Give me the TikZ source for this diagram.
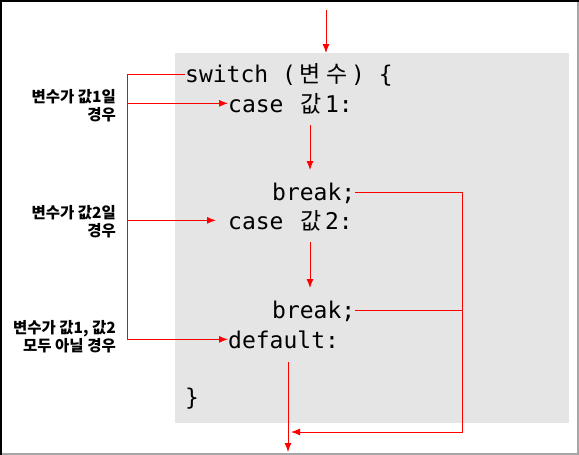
\documentclass[tikz,border=0pt]{standalone}
\usepackage{fontspec}
\usetikzlibrary{arrows.meta}
\newfontfamily\codefont{DejaVu Sans Mono}
\newfontfamily\cjk{Noto Sans CJK KR}
\newcommand\hg[1]{\makebox[1.2em]{\cjk #1}}
\definecolor{boxgray}{RGB}{229,229,229}
\tikzset{
  code/.style={anchor=base west, inner sep=0pt, font=\codefont\fontsize{23}{27}\selectfont},
  lbl/.style={anchor=east, align=right, inner sep=0pt, font=\cjk\bfseries\fontsize{15.5}{18}\selectfont},
  wire/.style={red, line width=1pt},
  flow/.style={wire, ->}
}
\begin{document}
\begin{tikzpicture}[x=1pt, y=-1pt, >={Latex[length=9pt,width=7pt]}]
        \useasboundingbox (0,0) rectangle (579,455);
        \draw[gray!70, line width=1.5pt] (578,0) -- (578,454) -- (0,454);
        \draw[black, line width=1.5pt] (0.75,455) -- (0.75,0.75) -- (579,0.75);
        \node[fill=boxgray, inner sep=0pt, minimum width=394pt, minimum height=370pt, anchor=north west] (body) at (175,53) {};
        % code lines
        \node[code] (sw) at (185,82) {switch (\hg{변}\hg{수}) \{};
        \node[code] (c1) at (228,112) {case \hg{값}1:};
        \node[code] (b1) at (272,200) {break;};
        \node[code] (c2) at (228,229) {case \hg{값}2:};
        \node[code] (b2) at (272,318) {break;};
        \node[code] (df) at (228,348) {default:};
        \node[code] (cl) at (185,405) {\}};
        % labels
        \node[lbl] (l1) at (116,106) {변수가 값1일\\경우};
        \node[lbl] (l2) at (116,222) {변수가 값2일\\경우};
        \node[lbl] (l3) at (116,337) {변수가 값1, 값2\\모두 아닐 경우};
        % free ends
        \coordinate (in) at (326,10);
        \coordinate (tr) at (127,73);
        \coordinate (s1) at (310,125);
        \coordinate (e1) at (310,170);
        \coordinate (s2) at (310,242);
        \coordinate (e2) at (310,288);
        \coordinate (jn) at (462,192);
        \coordinate (out) at (291,432);
        \coordinate (d0) at (288,362);
        \coordinate (d1) at (288,452);
        % connectors
        \draw[flow] (in) -- (in |- body.north);
        \draw[flow] (sw.west) -- (sw.west -| tr) |- (df.west);
        \draw[flow] (tr |- c1.west) -- (c1.west);
        \draw[flow] (tr |- c2.west) -- ([xshift=-12pt]c2.west);
        \draw[flow] (s1) -- (e1);
        \draw[flow] (s2) -- (e2);
        \draw[flow] (b1.east) -- (b1.east -| jn) -- (jn |- out) -- (out);
        \draw[wire] (b2.east) -- (b2.east -| jn);
        \draw[flow] (d0) -- (d1);
\end{tikzpicture}
\end{document}
